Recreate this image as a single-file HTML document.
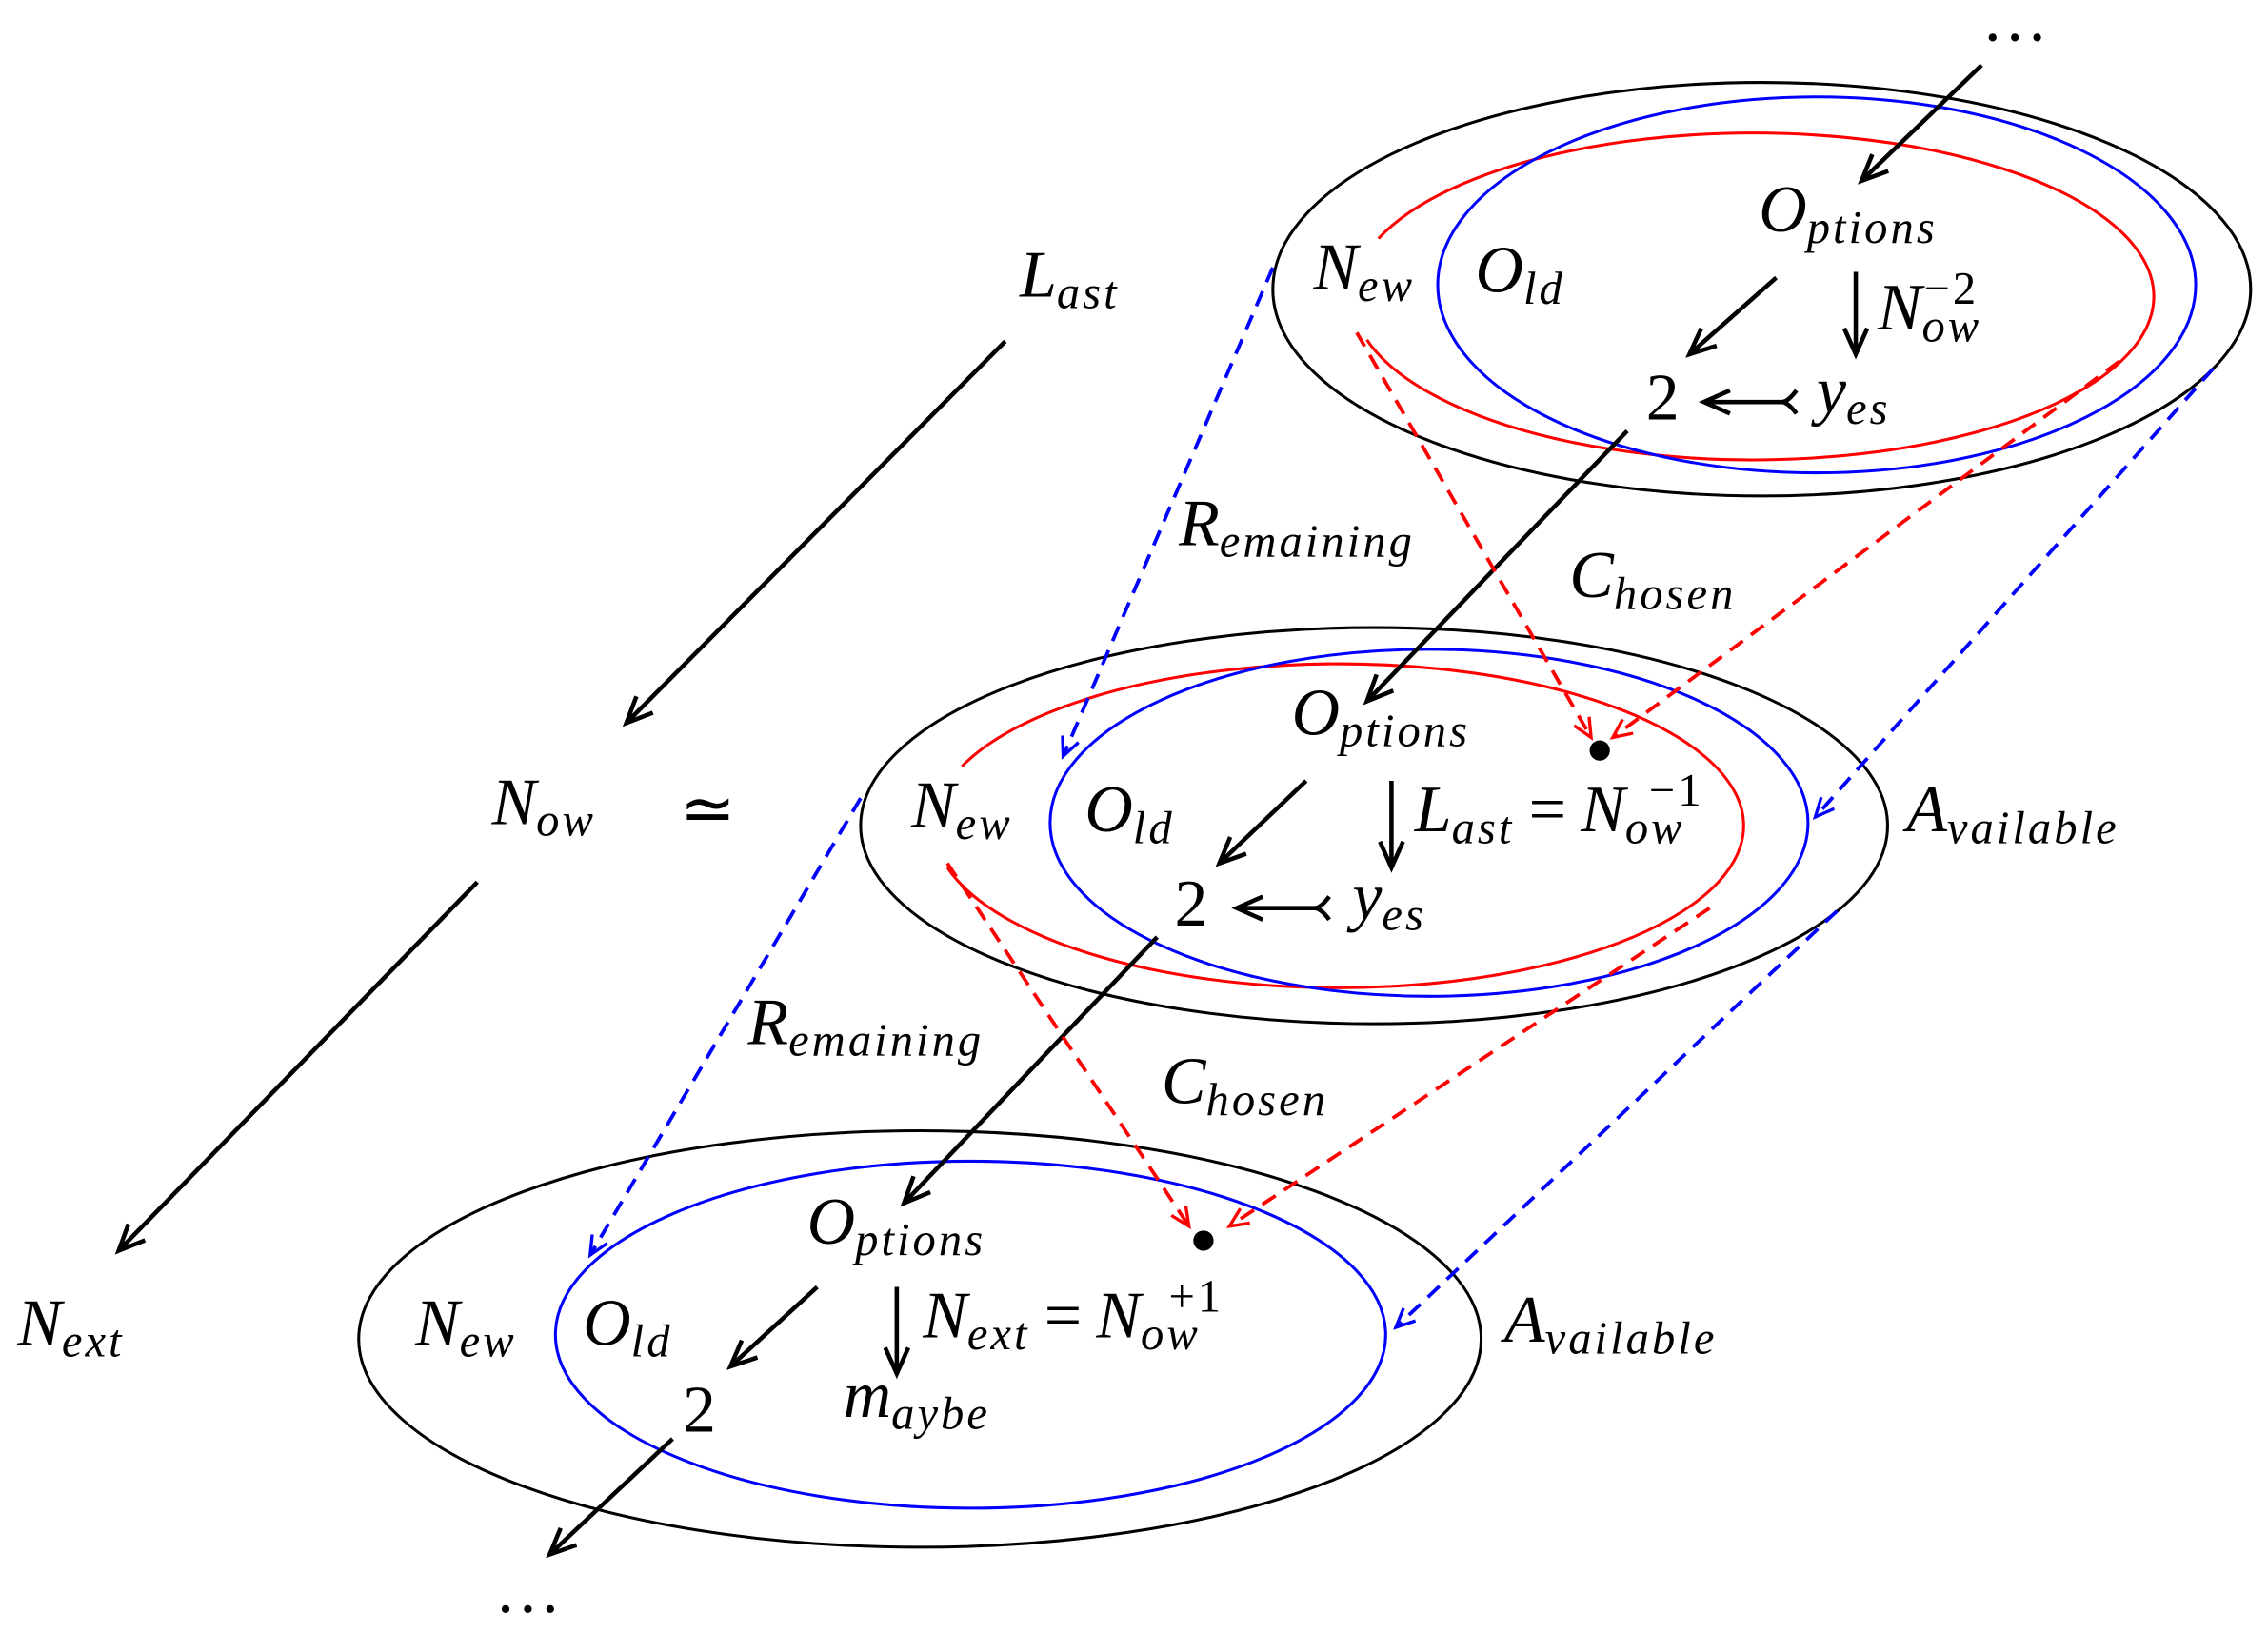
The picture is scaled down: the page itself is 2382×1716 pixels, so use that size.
<!DOCTYPE html>
<html><head><meta charset="utf-8"><style>
html,body{margin:0;padding:0;background:#fff;}
svg{display:block}
text{font-family:"Liberation Serif",serif;font-style:italic;fill:#000}
.b{font-size:46px}
.s{font-size:32px;letter-spacing:2px}
.r{font-style:normal}
</style></head><body>
<svg width="2382" height="1716" viewBox="0 0 1568 1130" preserveAspectRatio="none" xmlns="http://www.w3.org/2000/svg">
<defs>
<marker id="ak" markerUnits="userSpaceOnUse" markerWidth="24" markerHeight="24" refX="20" refY="10" orient="auto" viewBox="0 0 24 20"><path d="M2,2 L20,10 L2,18" fill="none" stroke="#000" stroke-width="3"/></marker>
<marker id="ar" markerUnits="userSpaceOnUse" markerWidth="18" markerHeight="18" refX="15" refY="8" orient="auto" viewBox="0 0 18 16"><path d="M2,2 L15,8 L2,14" fill="none" stroke="#f00" stroke-width="2.2"/></marker>
<marker id="ab" markerUnits="userSpaceOnUse" markerWidth="18" markerHeight="18" refX="15" refY="8" orient="auto" viewBox="0 0 18 16"><path d="M2,2 L15,8 L2,14" fill="none" stroke="#00f" stroke-width="2.2"/></marker>
</defs>
<g fill="none" stroke-width="2">
<ellipse cx="1218" cy="200" rx="338" ry="143" stroke="#000"/>
<path d="M953,165 A277,113 0 1 1 945,235" stroke="#f00"/>
<ellipse cx="1256" cy="197" rx="262" ry="130" stroke="#00f"/>
<ellipse cx="950" cy="571" rx="355" ry="137" stroke="#000"/>
<path d="M665,530 A280,112 0 1 1 655,600" stroke="#f00"/>
<ellipse cx="988" cy="569" rx="262" ry="120" stroke="#00f"/>
<ellipse cx="636" cy="926" rx="388" ry="144" stroke="#000"/>
<ellipse cx="671" cy="923" rx="287" ry="120" stroke="#00f"/>
</g>
<g stroke="#000" stroke-width="3" fill="none" marker-end="url(#ak)">
<line x1="1370" y1="45" x2="1287" y2="125"/>
<line x1="1228" y1="192" x2="1168" y2="245"/>
<line x1="1283" y1="188" x2="1283" y2="245"/>
<line x1="1236" y1="278" x2="1178" y2="278"/>
<line x1="1125" y1="298" x2="945" y2="485"/>
<line x1="695" y1="236" x2="433" y2="500"/>
<line x1="330" y1="610" x2="82" y2="865"/>
<line x1="903" y1="540" x2="843" y2="597"/>
<line x1="962" y1="540" x2="962" y2="600"/>
<line x1="913" y1="628" x2="855" y2="628"/>
<line x1="800" y1="648" x2="625" y2="832"/>
<line x1="565" y1="890" x2="505" y2="945"/>
<line x1="620" y1="890" x2="620" y2="950"/>
<line x1="465" y1="995" x2="380" y2="1075"/>
</g>
<g stroke="#000" stroke-width="3" fill="none">
<path d="M1242,270 Q1236,278 1232,278 Q1236,278 1242,286"/>
<path d="M919,620 Q913,628 909,628 Q913,628 919,636"/>
</g>
<g stroke="#00f" stroke-width="2.5" stroke-dasharray="11,7" fill="none" marker-end="url(#ab)">
<line x1="880" y1="185" x2="735" y2="523"/>
<line x1="1530" y1="255" x2="1255" y2="565"/>
<line x1="595" y1="552" x2="408" y2="868"/>
<line x1="1270" y1="630" x2="965" y2="918"/>
</g>
<g stroke="#f00" stroke-width="2.5" stroke-dasharray="11,7" fill="none" marker-end="url(#ar)">
<line x1="938" y1="230" x2="1100" y2="510"/>
<line x1="1465" y1="250" x2="1115" y2="510"/>
<line x1="655" y1="597" x2="822" y2="848"/>
<line x1="1182" y1="628" x2="850" y2="848"/>
</g>
<circle cx="1106" cy="519" r="7" fill="#000"/>
<circle cx="832" cy="858" r="7" fill="#000"/>
<text x="1370" y="28" class="b r">…</text>
<text x="342" y="1115" class="b r">…</text>
<text x="1216" y="160" class="b">O<tspan class="s" dy="8">ptions</tspan></text>
<text x="908" y="200" class="b">N<tspan class="s" dy="8">ew</tspan></text>
<text x="1020" y="202" class="b">O<tspan class="s" dy="8">ld</tspan></text>
<text x="1298" y="228" class="b">N<tspan class="s" dy="8">ow</tspan></text>
<text x="1330" y="210" class="s r">−2</text>
<text x="1138" y="290" class="b r">2</text>
<text x="1256" y="285" class="b">y<tspan class="s" dy="8">es</tspan></text>
<text x="705" y="205" class="b">L<tspan class="s" dy="8">ast</tspan></text>
<text x="815" y="377" class="b">R<tspan class="s" dy="8">emaining</tspan></text>
<text x="1085" y="413" class="b">C<tspan class="s" dy="8">hosen</tspan></text>
<text x="340" y="570" class="b">N<tspan class="s" dy="8">ow</tspan></text>
<text x="470" y="575" class="b r">≃</text>
<text x="630" y="572" class="b">N<tspan class="s" dy="8">ew</tspan></text>
<text x="750" y="575" class="b">O<tspan class="s" dy="8">ld</tspan></text>
<text x="893" y="508" class="b">O<tspan class="s" dy="8">ptions</tspan></text>
<text x="978" y="575" class="b">L<tspan class="s" dy="8">ast</tspan><tspan class="r" dy="-8" dx="10">=</tspan><tspan dx="10">N</tspan><tspan class="s" dy="8">ow</tspan></text>
<text x="1140" y="557" class="s r">−1</text>
<text x="812" y="640" class="b r">2</text>
<text x="935" y="635" class="b">y<tspan class="s" dy="8">es</tspan></text>
<text x="1318" y="575" class="b">A<tspan class="s" dy="8">vailable</tspan></text>
<text x="517" y="722" class="b">R<tspan class="s" dy="8">emaining</tspan></text>
<text x="803" y="763" class="b">C<tspan class="s" dy="8">hosen</tspan></text>
<text x="12" y="930" class="b">N<tspan class="s" dy="8">ext</tspan></text>
<text x="558" y="860" class="b">O<tspan class="s" dy="8">ptions</tspan></text>
<text x="287" y="930" class="b">N<tspan class="s" dy="8">ew</tspan></text>
<text x="403" y="930" class="b">O<tspan class="s" dy="8">ld</tspan></text>
<text x="638" y="925" class="b">N<tspan class="s" dy="8">ext</tspan><tspan class="r" dy="-8" dx="10">=</tspan><tspan dx="10">N</tspan><tspan class="s" dy="8">ow</tspan></text>
<text x="808" y="907" class="s r">+1</text>
<text x="472" y="990" class="b r">2</text>
<text x="583" y="980" class="b">m<tspan class="s" dy="8">aybe</tspan></text>
<text x="1040" y="928" class="b">A<tspan class="s" dy="8">vailable</tspan></text>
</svg>
</body></html>
